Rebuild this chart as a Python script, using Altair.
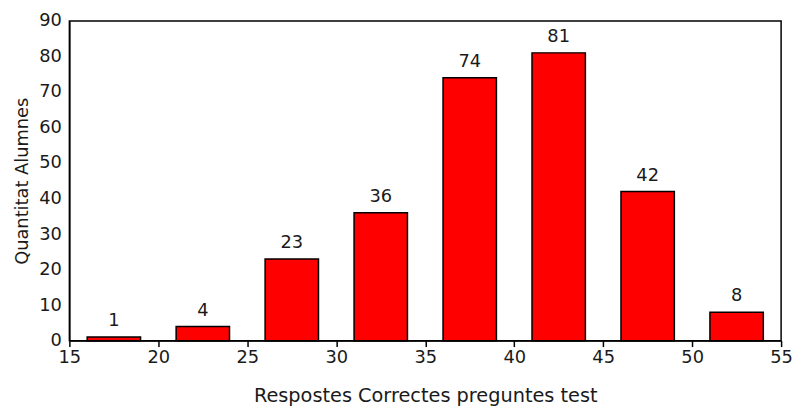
import altair as alt
import pandas as pd

bin_start = [16, 21, 26, 31, 36, 41, 46, 51]
bin_end = [19, 24, 29, 34, 39, 44, 49, 54]
counts = [1, 4, 23, 36, 74, 81, 42, 8]
x_ticks = [15, 20, 25, 30, 35, 40, 45, 50, 55]
y_ticks = [0, 10, 20, 30, 40, 50, 60, 70, 80, 90]

df = pd.DataFrame({"lo": bin_start, "hi": bin_end, "n": counts})

FONT = "DejaVu Sans"
TXT = "#1a1a1a"

x_scale = alt.Scale(domain=[15, 55], nice=False, zero=False)
y_scale = alt.Scale(domain=[0, 90], nice=False)

x_axis = alt.Axis(title="Respostes Correctes preguntes test",
                  values=x_ticks,
                  grid=False, tickSize=6, tickColor="black", tickWidth=1.5,
                  domainColor="black", domainWidth=1.5,
                  labelFont=FONT, labelFontSize=18, labelColor=TXT,
                  labelPadding=2, labelFlush=False, labelOverlap=False,
                  titleFont=FONT, titleFontSize=19.5, titleFontWeight="normal",
                  titleColor=TXT, titlePadding=20)
y_axis = alt.Axis(title="Quantitat Alumnes",
                  values=y_ticks, tickCount=10,
                  grid=False, ticks=False, domainColor="black", domainWidth=1.5,
                  labelFont=FONT, labelFontSize=18, labelColor=TXT,
                  labelPadding=8, labelOverlap=False, labelFlush=False,
                  titleFont=FONT, titleFontSize=18, titleFontWeight="normal",
                  titleColor=TXT, titlePadding=7)

base = alt.Chart(df)

bars = base.mark_bar(color="#ff0000", stroke="black", strokeWidth=1.5).encode(
    x=alt.X("lo:Q", scale=x_scale, axis=x_axis),
    x2="hi:Q",
    y=alt.Y("n:Q", scale=y_scale, axis=y_axis),
    y2=alt.datum(0),
)

labels = base.transform_calculate(mid="(datum.lo + datum.hi) / 2").mark_text(
    dy=-7, baseline="bottom", font=FONT, fontSize=18, color=TXT
).encode(
    x=alt.X("mid:Q", scale=x_scale, axis=x_axis),
    y=alt.Y("n:Q", scale=y_scale, axis=y_axis),
    text="n:Q",
)

chart = (bars + labels).properties(
    width=719, height=323,
    autosize=alt.AutoSizeParams(type="none"),
    padding={"left": 62, "top": 11, "right": 11, "bottom": 64},
).configure(background="white").configure_view(stroke="black", strokeWidth=1.5)

chart.save("out.html", embed_options={"renderer": "svg", "actions": False})
